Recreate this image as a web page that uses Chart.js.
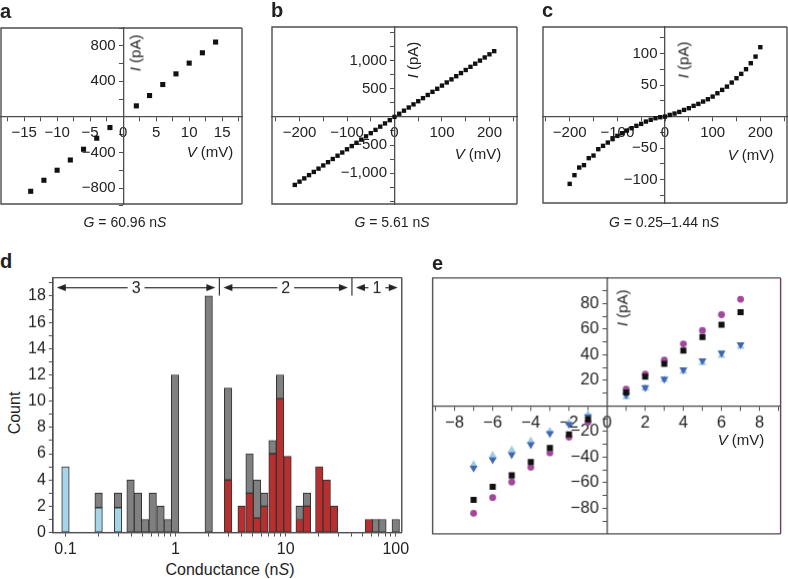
<!DOCTYPE html>
<html>
<head>
<meta charset="utf-8">
<script src="https://cdn.jsdelivr.net/npm/chart.js@4.4.1/dist/chart.umd.min.js"></script>
<style>
  body { margin: 0; background: #fff; }
  #fig { position: relative; width: 788px; height: 579px; overflow: hidden;
         font-family: "Liberation Sans", Arial, sans-serif; color: #222; }
  .wrap { position: absolute; }
  .t { position: absolute; white-space: nowrap; font-size: 15px; line-height: 1;
       transform: translate(-50%, -50%); }
  .r { transform: translate(-50%, -50%) rotate(-90deg); }
  .p { position: absolute; font-weight: bold; font-size: 20px; line-height: 20px; }
  .g { font-family: "Liberation Sans Narrow", "Liberation Sans", Arial, sans-serif; font-size: 14px; }
</style>
</head>
<body>
<div id="fig">
  <div class="wrap" id="wa"><canvas id="ca"></canvas></div>
  <div class="wrap" id="wb"><canvas id="cb"></canvas></div>
  <div class="wrap" id="wc"><canvas id="cc"></canvas></div>
  <div class="wrap" id="wd"><canvas id="cd"></canvas></div>
  <div class="wrap" id="we"><canvas id="ce"></canvas></div>

  <div class="p" style="left:0px;top:1px">a</div>
  <div class="p" style="left:271px;top:0px">b</div>
  <div class="p" style="left:542px;top:0px">c</div>
  <div class="p" style="left:0px;top:251px">d</div>
  <div class="p" style="left:432px;top:253px">e</div>

  <div class="t r" style="left:135px;top:53px"><i>I</i> (pA)</div>
  <div class="t" style="left:210px;top:151px"><i>V</i> (mV)</div>
  <div class="t r" style="left:412px;top:60px"><i>I</i> (pA)</div>
  <div class="t" style="left:478px;top:153px"><i>V</i> (mV)</div>
  <div class="t r" style="left:683px;top:60px"><i>I</i> (pA)</div>
  <div class="t" style="left:751px;top:154px"><i>V</i> (mV)</div>
  <div class="t r" style="left:622px;top:308px"><i>I</i> (pA)</div>
  <div class="t" style="left:741px;top:439px"><i>V</i> (mV)</div>
  <div class="t r" style="left:15px;top:413px;font-size:16px">Count</div>
  <div class="t" style="left:230px;top:570px;font-size:16px">Conductance (n<i>S</i>)</div>

  <div class="t g" style="left:125px;top:222px"><i>G</i> = 60.96 n<i>S</i></div>
  <div class="t g" style="left:392px;top:222px"><i>G</i> = 5.61 n<i>S</i></div>
  <div class="t g" style="left:664px;top:222px"><i>G</i> = 0.25–1.44 n<i>S</i></div>
</div>
<script>
// panel a
const voltA = [-14, -12, -10, -8, -6, -4, -2, 2, 4, 6, 8, 10, 12, 14];
const currA = [-837, -713, -600, -485, -364, -240, -120, 124, 240, 364, 484, 605, 721, 842];
const xTicksA = [-17.5, -15, -12.5, -10, -7.5, -5, -2.5, 0, 2.5, 5, 7.5, 10, 12.5, 15, 17.5];
const xLabelsA = [-15, -10, -5, 0, 5, 10, 15];
const yTicksA = [-1000, -800, -600, -400, -200, 0, 200, 400, 600, 800, 1000];
const yLabelsA = [-800, -400, 400, 800];

// panel b
const voltB = [-210, -200, -190, -180, -170, -160, -150, -140, -130, -120, -110, -100, -90, -80, -70,
  -60, -50, -40, -30, -20, -10, 0, 10, 20, 30, 40, 50, 60, 70, 80, 90, 100, 110, 120, 130, 140, 150,
  160, 170, 180, 190, 200, 210];
const currB = [-1210, -1152, -1094, -1036, -979, -921, -864, -806, -749, -691, -634, -576, -519, -461,
  -404, -346, -289, -231, -173, -116, -58, 0, 56, 111, 167, 223, 279, 334, 390, 446, 501, 557, 613,
  668, 724, 780, 835, 891, 947, 1002, 1058, 1114, 1170];
const xTicksB = [-250, -200, -150, -100, -50, 0, 50, 100, 150, 200, 250];
const xLabelsB = [-200, -100, 0, 100, 200];
const yTicksB = [-1500, -1250, -1000, -750, -500, -250, 0, 250, 500, 750, 1000, 1250, 1500];
const yLabelsB = [-1000, -500, 500, 1000];

// panel c
const voltC = [-200, -190, -180, -170, -160, -150, -140, -130, -120, -110, -100, -90, -80, -70, -60,
  -50, -40, -30, -20, -10, 0, 10, 20, 30, 40, 50, 60, 70, 80, 90, 100, 110, 120, 130, 140, 150, 160,
  170, 180, 190, 200];
const currC = [-106.7, -92.9, -80.8, -77, -65.9, -61.8, -51.7, -46.4, -41.2, -35.8, -30.6, -26.3, -22.2,
  -18.4, -14.7, -11.6, -7.9, -5.2, -2.6, -1, 0, 2.6, 4.8, 7.4, 10.6, 13.3, 17, 20.1, 23.8, 27.5, 31.7,
  37, 42.3, 47.5, 53.9, 60.8, 67.7, 75.1, 84.6, 95.1, 110];
const xTicksC = [-250, -200, -150, -100, -50, 0, 50, 100, 150, 200, 250];
const xLabelsC = [-200, -100, 0, 100, 200];
const yTicksC = [-125, -100, -75, -50, -25, 0, 25, 50, 75, 100, 125];
const yLabelsC = [-100, -50, 50, 100];

// panel d (histogram, bar segments)
const binsBlue = [0.1, 0.2, 0.3];
const countsBlue = [5, 1.9, 1.9];
const binsRed = [3, 3.98, 4.7, 5.5, 6.4, 7.6, 8.9, 10.4, 13.4, 15.6, 20.2, 23.6, 27.5, 57];
const countsRed = [4, 2, 3, 1.1, 2, 6, 10.2, 5.8, 1, 2, 5, 4, 2, 1];
const binsGrey = [0.2, 0.3, 0.39, 0.455, 0.53, 0.62, 0.73, 0.85, 0.99, 2, 3, 4.7, 5.5, 6.4, 7.6, 8.9,
  13.4, 15.6, 65.5, 75.7, 100];
const countsGrey = [1.1, 1.1, 4, 3, 1, 3, 2, 1, 12, 18, 7, 3, 2.9, 1, 1, 1.8, 1, 1, 1, 1, 1];
const xTicksD = [0.1, 0.2, 0.3, 0.4, 0.5, 0.6, 0.7, 0.8, 0.9, 1, 2, 3, 4, 5, 6, 7, 8, 9,
  10, 20, 30, 40, 50, 60, 70, 80, 90, 100];
const xLabelsD = [0.1, 1, 10, 100];
const yTicksD = [0, 1, 2, 3, 4, 5, 6, 7, 8, 9, 10, 11, 12, 13, 14, 15, 16, 17, 18, 19];
const yLabelsD = [0, 2, 4, 6, 8, 10, 12, 14, 16, 18];
const regionEdges = [2.5, 40];
const regionLabels = ['3', '2', '1'];

// panel e
const voltE = [-7, -6, -5, -4, -3, -2, -1, 1, 2, 3, 4, 5, 6, 7];
const currBlack = [-73.4, -63.2, -54.3, -43.8, -32.8, -22.3, -10.5, 10.5, 22.8, 32.8, 43.3, 53.8, 63.5, 73.2];
const currPurple = [-83.9, -71.6, -59.5, -48, -36.7, -24.4, -12.6, 13.1, 24.9, 35.9, 48.5, 59, 71.3, 83.4];
const currDarkBlue = [-48.5, -42, -38, -30.2, -21.5, -14.4, -8.4, 8.7, 14.4, 21, 28.3, 35.4, 41.4, 48];
const currLightBlue = [-45.9, -38.6, -34.4, -27.5, -19.7, -13.1, -6.6, 7, 13.9, 20.5, 27, 33.6, 39.3, 46.4];
const xTicksE = [-9, -8, -7, -6, -5, -4, -3, -2, -1, 0, 1, 2, 3, 4, 5, 6, 7, 8, 9];
const xLabelsE = [-8, -6, -4, -2, 0, 2, 4, 6, 8];
const yTicksE = [-90, -80, -70, -60, -50, -40, -30, -20, -10, 0, 10, 20, 30, 40, 50, 60, 70, 80, 90];
const yLabelsE = [-80, -60, -40, -20, 20, 40, 60, 80];

Chart.defaults.font.family = '"Liberation Sans", Arial, sans-serif';
Chart.defaults.font.size = 15;
Chart.defaults.color = '#222';

const ink = '#4d4d4d';
const minus = v => String(v).replace('-', '\u2212');
const thousands = v => minus(v.toLocaleString('en-US'));
// centred y axes put their labels right against the axis line, so leave a gap
const gap = fmt => v => fmt(v) + '\u2002';
const pairs = (xs, ys) => xs.map((x, i) => ({x: x, y: ys[i]}));

const framePlugin = {
  id: 'frame',
  afterDraw(chart, args, opts) {
    const {ctx, chartArea: {left, top, right, bottom}} = chart;
    ctx.save();
    ctx.lineWidth = 1.4;
    ctx.strokeStyle = ink;
    ctx.beginPath();
    ctx.moveTo(right, top); ctx.lineTo(left, top); ctx.lineTo(left, bottom); ctx.lineTo(right, bottom);
    ctx.stroke();
    ctx.strokeStyle = opts.right || ink;
    ctx.beginPath();
    ctx.moveTo(right, top); ctx.lineTo(right, bottom);
    ctx.stroke();
    ctx.restore();
  }
};

const regionPlugin = {
  id: 'regions',
  afterDatasetsDraw(chart) {
    const {ctx, chartArea: a, scales: {x}} = chart;
    const xs = [a.left].concat(regionEdges.map(v => x.getPixelForValue(v)), [a.right]);
    const y = a.top + 10;
    ctx.save();
    ctx.strokeStyle = '#333';
    ctx.fillStyle = '#222';
    ctx.lineWidth = 1.2;
    regionEdges.forEach((v, i) => {
      ctx.beginPath();
      ctx.moveTo(xs[i + 1], a.top);
      ctx.lineTo(xs[i + 1], a.top + 18);
      ctx.stroke();
    });
    ctx.font = '16px "Liberation Sans", Arial, sans-serif';
    ctx.textAlign = 'center';
    ctx.textBaseline = 'middle';
    regionLabels.forEach((lab, i) => {
      const x1 = xs[i] + 4, x2 = xs[i + 1] - 4, mid = (x1 + x2) / 2;
      const half = ctx.measureText(lab).width / 2 + 4;
      ctx.beginPath();
      ctx.moveTo(x1 + 6, y); ctx.lineTo(mid - half, y);
      ctx.moveTo(mid + half, y); ctx.lineTo(x2 - 6, y);
      ctx.stroke();
      ctx.beginPath();
      ctx.moveTo(x1, y); ctx.lineTo(x1 + 9, y - 3.5); ctx.lineTo(x1 + 9, y + 3.5); ctx.closePath();
      ctx.fill();
      ctx.beginPath();
      ctx.moveTo(x2, y); ctx.lineTo(x2 - 9, y - 3.5); ctx.lineTo(x2 - 9, y + 3.5); ctx.closePath();
      ctx.fill();
      ctx.fillText(lab, mid, y + 1);
    });
    ctx.restore();
  }
};

function axis(ticks, labelled, fmt, extra) {
  return Object.assign({
    type: 'linear',
    offset: false,
    afterBuildTicks: s => { s.ticks = ticks.map(v => ({value: v})); },
    grid: {drawOnChartArea: false, drawTicks: true, tickLength: 4, color: ink, lineWidth: 1, offset: false},
    border: {display: true, color: ink, width: 1.3},
    ticks: {autoSkip: false, maxRotation: 0, minRotation: 0, padding: 3,
            callback: v => labelled.includes(v) ? fmt(v) : ''}
  }, extra);
}

function baseOptions(frameOpts) {
  return {
    responsive: true,
    maintainAspectRatio: false,
    animation: false,
    events: [],
    layout: {padding: 0},
    plugins: {legend: {display: false}, tooltip: {enabled: false}, frame: frameOpts || {}}
  };
}

// move/resize each wrapper so the chart area lands on the target box
function place(chart, box) {
  const wrap = chart.canvas.parentNode;
  for (let k = 0; k < 2; k++) {
    const a = chart.chartArea;
    const padL = a.left, padT = a.top;
    const padR = chart.width - a.right, padB = chart.height - a.bottom;
    wrap.style.left = (box[0] - padL) + 'px';
    wrap.style.top = (box[1] - padT) + 'px';
    wrap.style.width = (box[2] + padL + padR) + 'px';
    wrap.style.height = (box[3] + padT + padB) + 'px';
    chart.resize();
  }
}

function ivChart(id, box, datasets, xAx, yAx, frameOpts) {
  const wrap = document.getElementById('w' + id);
  wrap.style.left = box[0] + 'px'; wrap.style.top = box[1] + 'px';
  wrap.style.width = box[2] + 'px'; wrap.style.height = box[3] + 'px';
  const chart = new Chart(document.getElementById('c' + id), {
    type: 'scatter',
    data: {datasets: datasets},
    options: Object.assign(baseOptions(frameOpts), {scales: {x: xAx, y: yAx}}),
    plugins: [framePlugin]
  });
  place(chart, box);
  return chart;
}

const square = (xs, ys, r) => ({data: pairs(xs, ys), pointStyle: 'rect', pointRadius: r,
  pointBackgroundColor: '#111', pointBorderWidth: 0});

ivChart('a', [1, 28, 241, 176], [square(voltA, currA, 3.6)],
  axis(xTicksA, xLabelsA, minus, {min: -18.5, max: 18, position: {y: 0}}),
  axis(yTicksA, yLabelsA, gap(minus), {min: -980, max: 1000, position: {x: 0}}));

ivChart('b', [272, 27, 245, 177], [square(voltB, currB, 3.1)],
  axis(xTicksB, xLabelsB, minus, {min: -258, max: 258, position: {y: 0}}),
  axis(yTicksB, yLabelsB, gap(thousands), {min: -1550, max: 1600, position: {x: 0}}));

ivChart('c', [543, 27, 244, 176], [square(voltC, currC, 3.1)],
  axis(xTicksC, xLabelsC, minus, {min: -256, max: 256, position: {y: 0}}),
  axis(yTicksC, yLabelsC, gap(minus), {min: -137, max: 142, position: {x: 0}}));

const eFont = {size: 16.5};
const xE = axis(xTicksE, xLabelsE, minus, {min: -9.15, max: 9.1, position: {y: 0}});
const yE = axis(yTicksE, yLabelsE, gap(minus), {min: -100, max: 100, position: {x: 0}});
xE.ticks.font = eFont; yE.ticks.font = eFont;
ivChart('e', [433, 278, 347, 255], [
  {data: pairs(voltE, currBlack), pointStyle: 'rect', pointRadius: 4.3, pointBackgroundColor: '#111', pointBorderWidth: 0},
  {data: pairs(voltE, currDarkBlue), pointStyle: 'triangle', pointRotation: 180, pointRadius: 4.6,
   pointBackgroundColor: '#3f66ae', pointBorderWidth: 0},
  {data: pairs(voltE, currLightBlue), pointStyle: 'triangle', pointRadius: 4.6,
   pointBackgroundColor: '#9fcbe4', pointBorderWidth: 0},
  {data: pairs(voltE, currPurple), pointStyle: 'circle', pointRadius: 3.4,
   pointBackgroundColor: '#a2479b', pointBorderWidth: 0}
], xE, yE, {right: '#6e3a6a'});

// panel d histogram
(function () {
  const box = [53, 278, 349, 254];
  const wrap = document.getElementById('wd');
  wrap.style.left = box[0] + 'px'; wrap.style.top = box[1] + 'px';
  wrap.style.width = box[2] + 'px'; wrap.style.height = box[3] + 'px';
  const bar = {barThickness: 7.5, borderWidth: 1, borderColor: '#333', borderSkipped: false};
  const dFont = {size: 16};
  const xD = axis(xTicksD, xLabelsD, String, {type: 'logarithmic', min: 0.0767, max: 113.4,
                                             stacked: true, position: 'bottom'});
  const yD = axis(yTicksD, yLabelsD, String, {min: 0, max: 19.4, stacked: true, position: 'left'});
  xD.ticks.font = dFont; yD.ticks.font = dFont;
  const chart = new Chart(document.getElementById('cd'), {
    type: 'bar',
    data: {datasets: [
      Object.assign({data: pairs(binsBlue, countsBlue), backgroundColor: '#a6d4e8'}, bar),
      Object.assign({data: pairs(binsRed, countsRed), backgroundColor: '#b7302f'}, bar),
      Object.assign({data: pairs(binsGrey, countsGrey), backgroundColor: '#808080'}, bar)
    ]},
    options: Object.assign(baseOptions(), {scales: {x: xD, y: yD}}),
    plugins: [framePlugin, regionPlugin]
  });
  place(chart, box);
})();
</script>
</body>
</html>
